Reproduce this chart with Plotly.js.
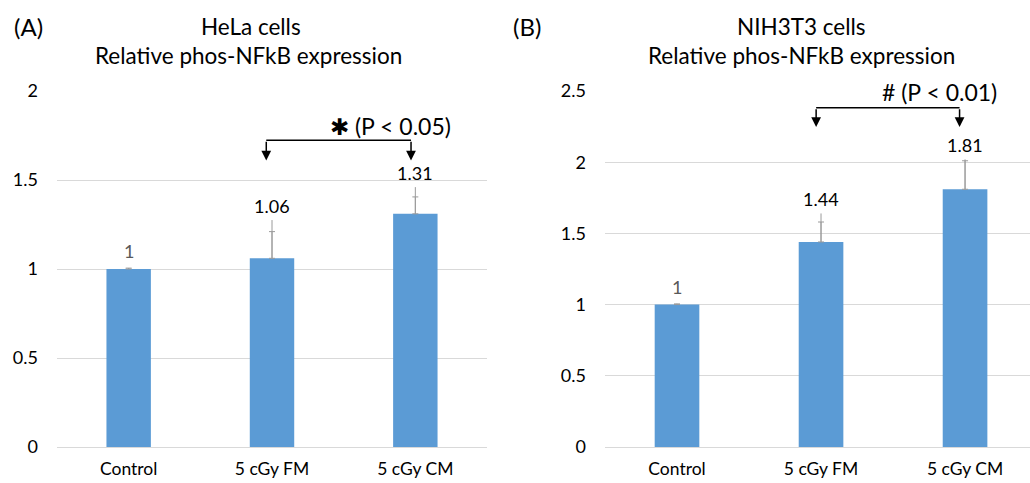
<!DOCTYPE html>
<html>
<head>
<meta charset="utf-8">
<script src="https://cdn.plot.ly/plotly-3.0.1.min.js"></script>
<style>html,body{margin:0;padding:0;background:#fff;}#chart{width:1030px;height:483px;}</style>
</head>
<body>
<div id="chart"></div>
<script>
// ---- data ----
const categories = ["Control", "5 cGy FM", "5 cGy CM"];
const helaValues = [1, 1.06, 1.31];
const helaErrCap = [0.005, 0.15, 0.095];
const helaErrLine = [0.005, 0.215, 0.15];
const nihValues = [1, 1.44, 1.81];
const nihErrCap = [0.005, 0.14, 0.20];
const nihErrLine = [0.005, 0.20, 0.21];
const helaTicks = [0, 0.5, 1, 1.5, 2];
const nihTicks = [0, 0.5, 1, 1.5, 2, 2.5];
const helaSig = {text: "✱ (P < 0.05)", lineY: 1.723, arrowY: 1.61, textY: 1.806, from: 0.96, to: 1.97};
const nihSig = {text: "# (P < 0.01)", lineY: 2.383, arrowY: 2.247, textY: 2.49, from: 0.966, to: 1.962};

const FONT = "Lato, 'Open Sans', sans-serif";
const barColor = "#5b9bd5";
const errColor = "#9a9a9a";
const zeros = [0, 0, 0];

function panelTraces(vals, cap, line, xa, ya) {
  return [
    {type: "bar", x: categories, y: vals, xaxis: xa, yaxis: ya, width: 0.31,
     marker: {color: barColor}, hoverinfo: "skip",
     error_y: {type: "data", symmetric: false, array: cap, arrayminus: zeros, visible: true, color: errColor, thickness: 1, width: 3}},
    {type: "scatter", mode: "markers", x: categories, y: vals, xaxis: xa, yaxis: ya,
     marker: {size: 1, opacity: 0}, hoverinfo: "skip",
     error_y: {type: "data", symmetric: false, array: line, arrayminus: zeros, visible: true, color: errColor, thickness: 1, width: 0}}
  ];
}

const data = [
  ...panelTraces(helaValues, helaErrCap, helaErrLine, "x", "y"),
  ...panelTraces(nihValues, nihErrCap, nihErrLine, "x2", "y2")
];

const annotations = [];
const shapes = [];
function labels(vals, line, xr, yr) {
  vals.forEach((v, i) => {
    annotations.push({xref: xr, yref: yr, x: categories[i], y: v + line[i], text: String(v),
      showarrow: false, yanchor: "bottom", yshift: i === 0 ? 4 : 1,
      font: {family: FONT, size: 18, color: i === 0 ? "#595959" : "#000"}});
  });
}
labels(helaValues, helaErrLine, "x", "y");
labels(nihValues, nihErrLine, "x2", "y2");

function sig(s, xr, yr) {
  shapes.push({type: "line", xref: xr, yref: yr, x0: s.from, x1: s.to, y0: s.lineY, y1: s.lineY,
    line: {color: "#000", width: 1.5}});
  [s.from, s.to].forEach(xv => {
    annotations.push({xref: xr, yref: yr, x: xv, y: s.arrowY, axref: xr, ayref: yr, ax: xv, ay: s.lineY,
      text: "", showarrow: true, arrowhead: 2, arrowsize: 1.3, arrowwidth: 1.5, arrowcolor: "#000"});
  });
  annotations.push({xref: xr, yref: yr, x: (s.from + s.to) / 2 + 0.36, y: s.textY, text: s.text,
    showarrow: false, xanchor: "center", yanchor: "middle", font: {family: FONT, size: 23, color: "#000"}});
}
sig(helaSig, "x", "y");
sig(nihSig, "x2", "y2");

// titles
function paperText(px, py, text, size) {
  annotations.push({xref: "paper", yref: "paper", x: px / 1030, y: 1 - py / 483, text: text,
    xanchor: "center", yanchor: "middle", showarrow: false, font: {family: FONT, size: size, color: "#000"}});
}
paperText(28, 27, "(A)", 24);
paperText(527, 27, "(B)", 24);
paperText(251, 27, "HeLa cells", 22.5);
paperText(248, 56, "Relative phos-NFkB expression", 22.5);
paperText(801, 27, "NIH3T3 cells", 22.5);
paperText(801, 56, "Relative phos-NFkB expression", 22.5);

const yDomain = [36 / 483, 392 / 483];
const axFont = {family: FONT, size: 18, color: "#000"};
const catFont = {family: FONT, size: 17.5, color: "#000"};
const layout = {
  width: 1030, height: 483,
  margin: {l: 0, r: 0, t: 0, b: 0},
  paper_bgcolor: "#fff", plot_bgcolor: "#fff",
  showlegend: false,
  font: {family: FONT},
  xaxis: {domain: [57 / 1030, 487 / 1030], range: [-0.5, 2.5], type: "category", showgrid: false,
    showline: false, ticks: "", tickfont: catFont, ticklabelstandoff: 9},
  yaxis: {domain: yDomain, range: [0, 2], tickvals: helaTicks, ticktext: helaTicks.map(String),
    showgrid: true, gridcolor: "#d9d9d9", gridwidth: 1, zeroline: true, zerolinecolor: "#d9d9d9", zerolinewidth: 1,
    showline: false, ticks: "", tickfont: axFont, ticklabelstandoff: 18},
  xaxis2: {domain: [605 / 1030, 1], range: [-0.5, 2.451], type: "category", showgrid: false,
    showline: false, ticks: "", tickfont: catFont, anchor: "y2", ticklabelstandoff: 9},
  yaxis2: {domain: yDomain, range: [0, 2.5], tickvals: nihTicks, ticktext: nihTicks.map(String), anchor: "x2",
    showgrid: true, gridcolor: "#d9d9d9", gridwidth: 1, zeroline: true, zerolinecolor: "#d9d9d9", zerolinewidth: 1,
    showline: false, ticks: "", tickfont: axFont, ticklabelstandoff: 18},
  annotations: annotations,
  shapes: shapes
};

Plotly.newPlot("chart", data, layout, {staticPlot: true, displayModeBar: false});
</script>
</body>
</html>
